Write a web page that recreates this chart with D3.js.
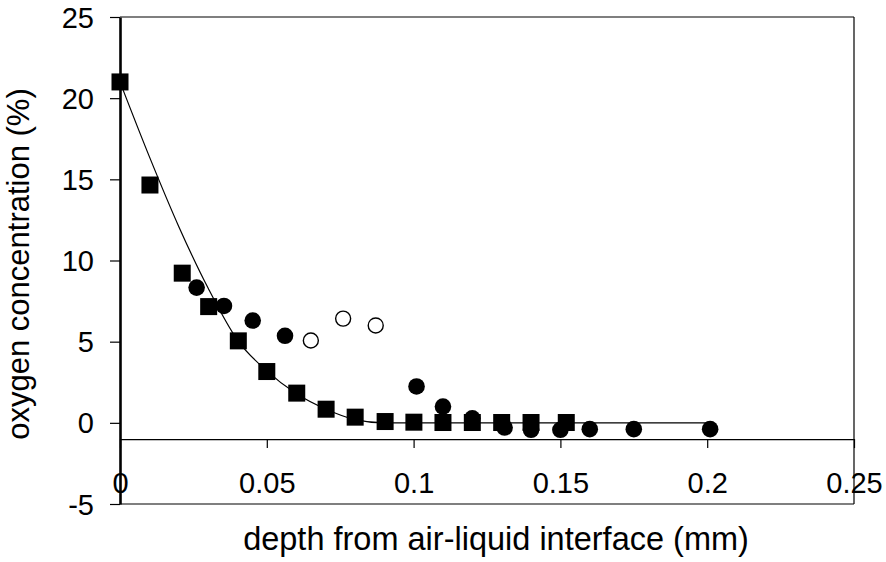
<html>
<head>
<meta charset="utf-8" />
<title>Oxygen profile</title>
<script src="https://cdn.jsdelivr.net/npm/d3@7"></script>
<style>
body { margin: 0; background: #fff; }
text { font-family: Arial, "Liberation Sans", sans-serif; fill: #000; }
</style>
</head>
<body>
<script>
// squares (filled)
var sqX = [0, 0.0102, 0.0212, 0.0302, 0.0403, 0.050, 0.0602, 0.0702, 0.0801, 0.0903, 0.1001, 0.110, 0.120, 0.130, 0.140, 0.152];
var sqY = [21, 14.65, 9.22, 7.16, 5.05, 3.16, 1.83, 0.84, 0.35, 0.08, 0.04, 0.02, 0.02, 0.02, 0.02, 0.02];
// filled circles
var cX = [0.0261, 0.0354, 0.0452, 0.0562, 0.101, 0.110, 0.120, 0.131, 0.140, 0.150, 0.160, 0.175, 0.201];
var cY = [8.33, 7.2, 6.3, 5.36, 2.24, 1.0, 0.28, -0.29, -0.43, -0.43, -0.39, -0.39, -0.39];
// open circles
var oX = [0.065, 0.076, 0.0871];
var oY = [5.07, 6.42, 6.0];
// fitted curve
var fitX = [0, 0.01, 0.02, 0.03, 0.04, 0.05, 0.06, 0.07, 0.08, 0.09, 0.1, 0.2];
var fitY = [21, 16.4, 12.1, 8.3, 5.1, 3.2, 1.8, 0.85, 0.2, 0.0, 0.0, 0.0];

var xTicks = [0, 0.05, 0.1, 0.15, 0.2, 0.25];
var yTicks = [-5, 0, 5, 10, 15, 20, 25];

var width = 886, height = 562;
var pLeft = 120, pRight = 854, pTop = 17, pBottom = 504;

var svg = d3.select("body").append("svg")
	.attr("width", width)
	.attr("height", height);

var x = d3.scaleLinear().domain([0, 0.25]).range([pLeft, pRight]);
var y = d3.scaleLinear().domain([-5, 25]).range([pBottom, pTop]);

// frame
svg.append("line").attr("x1", pLeft).attr("x2", pRight).attr("y1", pTop).attr("y2", pTop)
	.attr("stroke", "#000").attr("stroke-width", 1.2);
svg.append("line").attr("x1", pLeft).attr("x2", pRight).attr("y1", pBottom).attr("y2", pBottom)
	.attr("stroke", "#000").attr("stroke-width", 1.2);
svg.append("line").attr("x1", pRight).attr("x2", pRight).attr("y1", pTop).attr("y2", pBottom)
	.attr("stroke", "#000").attr("stroke-width", 1.2);

// x axis crossing at y = -1
var gx = svg.append("g")
	.attr("transform", "translate(0," + y(-1) + ")")
	.call(d3.axisBottom(x).tickValues(xTicks).tickSize(9).tickSizeOuter(0).tickFormat(function(d) { return String(+d.toFixed(2)); }));
gx.select(".domain").attr("stroke", "#000").attr("stroke-width", 1.2);
gx.selectAll(".tick line").attr("stroke", "#000").attr("stroke-width", 1.2);
gx.selectAll(".tick text")
	.attr("y", 54).attr("dy", 0)
	.attr("font-size", "29px")
	.attr("font-family", "Arial, 'Liberation Sans', sans-serif")
	.attr("fill", "#000");

// y axis
var gy = svg.append("g")
	.attr("transform", "translate(" + pLeft + ",0)")
	.call(d3.axisLeft(y).tickValues(yTicks).tickSize(10).tickSizeOuter(0).tickPadding(16).tickFormat(function(d) { return String(d); }));
gy.select(".domain").attr("stroke", "#000").attr("stroke-width", 2.6);
gy.selectAll(".tick line").attr("stroke", "#000").attr("stroke-width", 1.2);
gy.selectAll(".tick text")
	.attr("dy", "0.35em")
	.attr("font-size", "29px")
	.attr("font-family", "Arial, 'Liberation Sans', sans-serif")
	.attr("fill", "#000");

// axis titles
svg.append("text")
	.attr("x", 496).attr("y", 550)
	.attr("text-anchor", "middle")
	.attr("font-size", "32.5px")
	.text("depth from air-liquid interface (mm)");

svg.append("text")
	.attr("transform", "translate(29,264) rotate(-90)")
	.attr("text-anchor", "middle")
	.attr("font-size", "31px")
	.text("oxygen concentration (%)");

// fitted curve
var fit = fitX.map(function(d, i) { return {x: d, y: fitY[i]}; });
var line = d3.line()
	.x(function(d) { return x(d.x); })
	.y(function(d) { return y(d.y); })
	.curve(d3.curveMonotoneX);
svg.append("path")
	.datum(fit)
	.attr("d", line)
	.attr("fill", "none")
	.attr("stroke", "#000")
	.attr("stroke-width", 1.2);

// filled circles
svg.selectAll(".fc")
	.data(cX.map(function(d, i) { return {x: d, y: cY[i]}; }))
	.enter().append("circle")
	.attr("class", "fc")
	.attr("cx", function(d) { return x(d.x); })
	.attr("cy", function(d) { return y(d.y); })
	.attr("r", 8.3)
	.attr("fill", "#000");

// open circles
svg.selectAll(".oc")
	.data(oX.map(function(d, i) { return {x: d, y: oY[i]}; }))
	.enter().append("circle")
	.attr("class", "oc")
	.attr("cx", function(d) { return x(d.x); })
	.attr("cy", function(d) { return y(d.y); })
	.attr("r", 7.5)
	.attr("fill", "#fff")
	.attr("stroke", "#000")
	.attr("stroke-width", 1.4);

// squares
var s = 17;
svg.selectAll(".sq")
	.data(sqX.map(function(d, i) { return {x: d, y: sqY[i]}; }))
	.enter().append("rect")
	.attr("class", "sq")
	.attr("x", function(d) { return x(d.x) - s / 2; })
	.attr("y", function(d) { return y(d.y) - s / 2; })
	.attr("width", s)
	.attr("height", s)
	.attr("fill", "#000");
</script>
</body>
</html>
